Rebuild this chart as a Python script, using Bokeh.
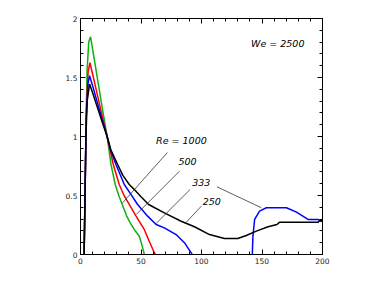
from bokeh.plotting import figure
from bokeh.models import Range1d, FixedTicker, LinearAxis, Label
from bokeh.embed import file_html
from bokeh.resources import INLINE

# ---- data ----
t_green = [3, 4.7, 5.5, 6.8, 8.3, 11, 15, 18, 22, 25.2, 28.7, 32, 35.4, 38, 41, 44.5, 48.6, 50.5, 52.8]
R_green = [0, 1.2, 1.57, 1.8, 1.845, 1.68, 1.43, 1.24, 1.0, 0.763, 0.593, 0.49, 0.40, 0.33, 0.27, 0.21, 0.155, 0.09, 0.0]

t_red = [3, 4.8, 6.3, 7.8, 10, 14, 18, 22, 27.1, 32, 36, 40.3, 45.9, 52.8, 56.9, 61, 62]
R_red = [0, 1.2, 1.55, 1.625, 1.53, 1.35, 1.17, 1.0, 0.763, 0.593, 0.5, 0.424, 0.325, 0.21, 0.11, 0.015, 0]

t_blue = [3, 4.7, 6.2, 7.5, 10, 14, 18, 22, 25, 29.3, 36.2, 41, 47.2, 55.5, 62.5, 69.3, 79, 85.9, 91.5, 92.3,
          float("nan"),
          142, 142.5, 143.9, 148, 153.6, 170.2, 178.5, 188, 196.4, 198.3, 200]
R_blue = [0, 1.15, 1.45, 1.515, 1.43, 1.285, 1.14, 1.0, 0.88, 0.763, 0.593, 0.52, 0.424, 0.325, 0.254, 0.226, 0.169, 0.1, 0.014, 0,
          float("nan"),
          0, 0.155, 0.297, 0.367, 0.396, 0.396, 0.359, 0.297, 0.297, 0.282, 0.29]

t_black = [3, 4.5, 5.5, 7.5, 10, 14, 18, 22, 25, 30.7, 35, 40.3, 44.5, 50, 56.3, 69.3, 83.2, 94.2, 106.6,
           119, 130, 137, 145.3, 155, 162.4, 164.6, 196.4, 197.8, 200]
R_black = [0, 1.0, 1.3, 1.445, 1.37, 1.245, 1.12, 1.0, 0.89, 0.763, 0.67, 0.593, 0.55, 0.49, 0.424, 0.353,
           0.282, 0.235, 0.169, 0.135, 0.135, 0.161, 0.198, 0.235, 0.254, 0.274, 0.274, 0.29, 0.28]

x_ticks = [0, 50, 100, 150, 200]
x_tick_labels = ["0", "50", "100", "150", "200"]
y_ticks = [0, 0.5, 1, 1.5, 2]
y_tick_labels = ["0", "0.5", "1", "1.5", "2"]

curve_labels = ["Re = 1000", "500", "333", "250"]
label_t = [83.4, 88.4, 99.8, 108.5]
label_R = [0.966, 0.79, 0.613, 0.447]
leader_t0 = [71.8, 81.8, 90.6, 99.8, 112.7]
leader_R0 = [0.864, 0.706, 0.551, 0.409, 0.574]
leader_t1 = [34.8, 46.1, 62.5, 86.2, 149.5]
leader_R1 = [0.438, 0.339, 0.263, 0.26, 0.396]

FONT = "DejaVu Sans"

p = figure(width=362, height=289, output_backend="svg", toolbar_location=None,
           x_range=Range1d(0, 200), y_range=Range1d(0, 2),
           min_border_left=80, min_border_right=40, min_border_top=18, min_border_bottom=35,
           x_axis_location=None, y_axis_location=None)
p.grid.visible = False
p.outline_line_color = "black"
p.outline_line_width = 1
p.background_fill_color = "white"
p.border_fill_color = "white"

def make_axis(ticks, minors, labels, show_labels):
    ax = LinearAxis(ticker=FixedTicker(ticks=ticks, minor_ticks=minors))
    ax.axis_line_color = "black"
    ax.major_tick_line_color = "black"
    ax.minor_tick_line_color = "black"
    ax.major_tick_in = 5
    ax.major_tick_out = 0
    ax.minor_tick_in = 3
    ax.minor_tick_out = 0
    ax.major_label_text_font = FONT
    ax.major_label_text_font_size = "7.5px"
    if show_labels:
        ax.major_label_overrides = {k: v for k, v in zip(ticks, labels)}
        ax.major_label_text_color = "#222222"
        ax.major_label_standoff = 3
    else:
        ax.major_label_overrides = {k: "" for k in ticks}
        ax.major_label_text_color = None
        ax.major_label_standoff = 0
    return ax

x_minor = list(range(0, 201, 10))
y_minor = [i / 10 for i in range(0, 21)]

p.add_layout(make_axis(x_ticks, x_minor, x_tick_labels, True), "below")
p.add_layout(make_axis(x_ticks, x_minor, x_tick_labels, False), "above")
p.add_layout(make_axis(y_ticks, y_minor, y_tick_labels, True), "left")
p.add_layout(make_axis(y_ticks, y_minor, y_tick_labels, False), "right")

p.line(t_green, R_green, line_color="#10b010", line_width=1.5)
p.line(t_red, R_red, line_color="#ff0000", line_width=1.5)
p.line(t_blue, R_blue, line_color="#0000ff", line_width=1.5)
p.line(t_black, R_black, line_color="black", line_width=1.5)

p.segment(x0=leader_t0, y0=leader_R0, x1=leader_t1, y1=leader_R1,
          line_color="#333333", line_width=0.8)

for txt, tx, ty in zip(curve_labels, label_t, label_R):
    p.add_layout(Label(x=tx, y=ty, text=txt, text_align="center", text_baseline="middle",
                       text_font=FONT, text_font_style="italic", text_font_size="9.5px",
                       text_color="black"))

p.add_layout(Label(x=163, y=1.788, text="We = 2500", text_align="center", text_baseline="middle",
                   text_font=FONT, text_font_style="italic", text_font_size="9.5px",
                   text_color="black"))

p.add_layout(Label(x=-32.6, y=0.99, text="R", text_align="center", text_baseline="middle",
                   text_font=FONT, text_font_style="italic", text_font_size="9.5px",
                   text_color="black"))
p.add_layout(Label(x=100, y=-0.237, text="t", text_align="center", text_baseline="middle",
                   text_font=FONT, text_font_style="italic", text_font_size="9.5px",
                   text_color="black"))

open("out.html", "w").write(file_html(p, INLINE))
